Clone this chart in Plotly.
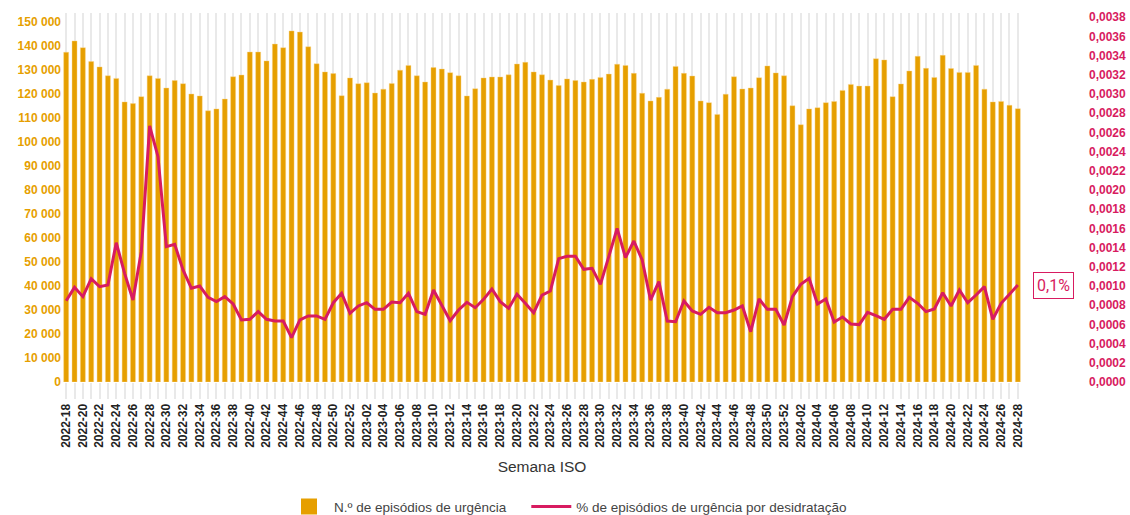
import plotly.graph_objects as go

# ISO week categories 2022-18 .. 2024-28
weeks = ([f"2022-{w:02d}" for w in range(18, 53)] +
         [f"2023-{w:02d}" for w in range(1, 53)] +
         [f"2024-{w:02d}" for w in range(1, 29)])

episodios = [
    137400, 142100, 139300, 133500, 131300, 127600, 126500, 116700, 116000, 118900,
    127600, 126500, 122500, 125600, 124300, 120000, 119200, 113000, 113800, 117900,
    127200, 127900, 137500, 137500, 133800, 140800, 139300, 146300, 145800, 139700,
    132600, 129200, 128500, 119300, 126700, 124300, 124700, 120400, 122000, 124400,
    129900, 131900, 127600, 125000, 131000, 130400, 128900, 127600, 119200, 122200,
    126700, 127100, 127100, 128000, 132500, 133200, 129200, 128000, 125800, 123500,
    126300, 125600, 125000, 126100, 126900, 128300, 132400, 131900, 128600, 120300,
    117100, 118600, 122000, 131500, 128600, 127500, 117100, 116400, 111500, 119900,
    127200, 122100, 122500, 126800, 131700, 128800, 127600, 115100, 107200, 113800,
    114300, 116400, 116900, 121500, 124000, 123300, 123300, 134700, 134200, 118900,
    124200, 129600, 135700, 130700, 126900, 136100, 130600, 129000, 129000, 131900,
    122000, 116700, 116900, 115300, 113900,
]

pct_desidratacao = [
    0.000847, 0.000986, 0.000889, 0.001076, 0.000993, 0.001010, 0.001451, 0.001132, 0.000854, 0.001358,
    0.002667, 0.002347, 0.001410, 0.001434, 0.001167, 0.000976, 0.001000, 0.000882, 0.000837, 0.000889,
    0.000813, 0.000646, 0.000653, 0.000733, 0.000653, 0.000635, 0.000635, 0.000462, 0.000646, 0.000688,
    0.000688, 0.000653, 0.000826, 0.000924, 0.000715, 0.000792, 0.000826, 0.000757, 0.000757, 0.000833,
    0.000826, 0.000924, 0.000733, 0.000705, 0.000958, 0.000792, 0.000639, 0.000750, 0.000830, 0.000774,
    0.000861, 0.000969, 0.000837, 0.000767, 0.000913, 0.000820, 0.000722, 0.000906, 0.000948, 0.001285,
    0.001310, 0.001310, 0.001174, 0.001184, 0.001017, 0.001306, 0.001601, 0.001295, 0.001469, 0.001271,
    0.000854, 0.001045, 0.000635, 0.000628, 0.000844, 0.000740, 0.000705, 0.000778, 0.000722, 0.000722,
    0.000750, 0.000792, 0.000524, 0.000865, 0.000757, 0.000757, 0.000594, 0.000889, 0.001017, 0.001080,
    0.000813, 0.000865, 0.000625, 0.000677, 0.000604, 0.000598, 0.000726, 0.000691, 0.000653, 0.000757,
    0.000757, 0.000882, 0.000820, 0.000733, 0.000760, 0.000930, 0.000792, 0.000958, 0.000826, 0.000906,
    0.000993, 0.000653, 0.000820, 0.000913, 0.001010,
]

tick_text = [w if i % 2 == 0 else "" for i, w in enumerate(weeks)]

ORANGE = "#E69F00"
PINK = "#D81B60"
GRID = "#e9e9e9"
FONT = "Liberation Sans, Arial, sans-serif"
BAR_NAME = "N.º de episódios de urgência"
LINE_NAME = "% de episódios de urgência por desidratação"

fig = go.Figure()
fig.add_trace(go.Bar(
    x=weeks, y=episodios, name=BAR_NAME, showlegend=False, legendgroup="bar",
    marker=dict(color=ORANGE, line=dict(color="rgba(250,215,140,0.7)", width=0.6)),
    yaxis="y",
))
# legend entry with a larger square swatch, like the reference
fig.add_trace(go.Scatter(
    x=[None], y=[None], name=BAR_NAME + "\u00a0" * 4, legendgroup="bar", mode="markers",
    marker=dict(symbol="square", size=25, color=ORANGE), yaxis="y",
))
fig.add_trace(go.Scatter(
    x=weeks, y=pct_desidratacao, name=LINE_NAME,
    mode="lines", line=dict(color=PINK, width=3), yaxis="y2",
))

last = pct_desidratacao[-1]
label = f"{last*100:.1f}%".replace(".", ",")

W, H = 1130, 515
ml, mr, mt, mb = 62, 42, 13, 133
paper_w = W - ml - mr
plot_right = 1022
dom_end = (plot_right - ml) / paper_w

fig.add_annotation(
    x=(1053.5 - ml) / paper_w, xref="paper", y=last, yref="y2",
    text=label, showarrow=False, xanchor="center", yanchor="middle",
    font=dict(family="Roboto, " + FONT, size=16, color=PINK),
    bordercolor=PINK, borderwidth=1, borderpad=3, bgcolor="white",
)

fig.update_layout(
    width=W, height=H,
    margin=dict(l=ml, r=mr, t=mt, b=mb, autoexpand=False),
    paper_bgcolor="white", plot_bgcolor="white",
    separators=", ",
    bargap=0.4,
    showlegend=True,
    legend=dict(orientation="h", x=(284 - ml) / paper_w, xanchor="left", y=-0.296, yanchor="top",
                font=dict(family=FONT, size=13.5, color="#444"),
                itemwidth=40, itemsizing="trace", tracegroupgap=0),
    font=dict(family=FONT),
    xaxis=dict(
        domain=[0, dom_end],
        type="category",
        automargin=False,
        tickmode="array", tickvals=weeks, ticktext=tick_text,
        tickangle=-90,
        tickfont=dict(family=FONT, size=12, color="#222", weight="bold"),
        showgrid=True, gridcolor=GRID, gridwidth=2,
        ticks="outside", ticklen=16, tickwidth=2, tickcolor=GRID,
        showline=False, zeroline=False,
        title=dict(text="Semana ISO", font=dict(family=FONT, size=15.5, color="#333"), standoff=14),
        range=[-0.5, len(weeks) - 0.5],
    ),
    yaxis=dict(
        automargin=False,
        range=[0, 153750], dtick=10000, tick0=0,
        tickformat=",d",
        tickfont=dict(family=FONT, size=12, color=ORANGE, weight="bold"),
        showgrid=False, zeroline=False, showline=False, ticks="",
    ),
    yaxis2=dict(
        automargin=False,
        overlaying="y", side="right", anchor="free", position=1.0,
        range=[0, 0.0038438], dtick=0.0002, tick0=0,
        tickformat=".4f",
        tickfont=dict(family=FONT, size=12, color=PINK, weight="bold"),
        showgrid=False, zeroline=False, showline=False, ticks="",
    ),
)

fig.write_html(
    "out.html",
    config={"displayModeBar": False},
    post_script="document.body.style.margin='0';document.body.style.overflow='hidden';",
)
